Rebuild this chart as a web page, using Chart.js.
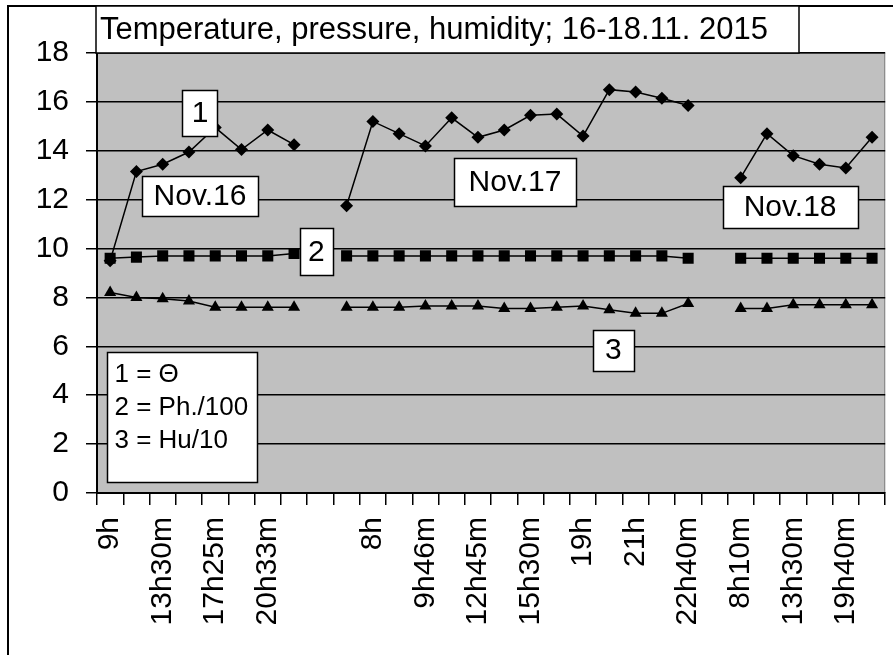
<!DOCTYPE html>
<html>
<head>
<meta charset="utf-8">
<script src="https://cdn.jsdelivr.net/npm/chart.js@4.4.0/dist/chart.umd.min.js"></script>
<style>
  html, body { margin: 0; padding: 0; background: #fff; }
</style>
</head>
<body>
<canvas id="weather-chart" width="893" height="655"></canvas>
<script>
const chartTitle = "Temperature, pressure, humidity; 16-18.11. 2015"

// one category per reading, every other label is hidden like in the original
const timeLabels = [
  "9h", "", "13h30m", "", "17h25m", "", "20h33m", "", "", "",
  "8h", "", "9h46m", "", "12h45m", "", "15h30m", "", "19h", "",
  "21h", "", "22h40m", "", "8h10m", "", "13h30m", "", "19h40m", ""
]

// 1 = temperature
const temperature = [
  9.5, 13.15, 13.45, 13.95, 14.95, 14.05, 14.85, 14.25, null,
  11.75, 15.2, 14.7, 14.2, 15.35, 14.55, 14.85, 15.45, 15.5, 14.6, 16.5, 16.4, 16.15, 15.85, null,
  12.9, 14.7, 13.8, 13.45, 13.3, 14.55
]

// 2 = pressure / 100
const pressure = [
  9.6, 9.65, 9.7, 9.7, 9.7, 9.7, 9.7, 9.8, null,
  9.7, 9.7, 9.7, 9.7, 9.7, 9.7, 9.7, 9.7, 9.7, 9.7, 9.7, 9.7, 9.7, 9.6, null,
  9.6, 9.6, 9.6, 9.6, 9.6, 9.6
]

// 3 = humidity / 10
const humidity = [
  8.2, 8.0, 7.95, 7.85, 7.6, 7.6, 7.6, 7.6, null,
  7.6, 7.6, 7.6, 7.65, 7.65, 7.65, 7.55, 7.55, 7.6, 7.65, 7.5, 7.35, 7.35, 7.75, null,
  7.55, 7.55, 7.7, 7.7, 7.7, 7.7
]

const legendLines = ["1 = \u0398", "2 = Ph./100", "3 = Hu/10"]

const FONT = "'Liberation Sans', Arial, sans-serif"

// text boxes placed in data coordinates (category index, value)
const notes = [
  { text: "1", x: 3.42, y: 15.54, w: 35, h: 46 },
  { text: "Nov.16", x: 3.42, y: 12.15, w: 116, h: 40 },
  { text: "2", x: 7.85, y: 9.86, w: 33, h: 47 },
  { text: "Nov.17", x: 15.41, y: 12.72, w: 122, h: 48 },
  { text: "3", x: 19.15, y: 5.85, w: 41, h: 41 },
  { text: "Nov.18", x: 25.88, y: 11.7, w: 135, h: 42 }
]

const decorations = {
  id: "decorations",
  beforeDraw(chart) {
    const { ctx, chartArea: a } = chart
    ctx.save()
    ctx.fillStyle = "#fff"
    ctx.fillRect(0, 0, chart.width, chart.height)
    ctx.fillStyle = "#c0c0c0"
    ctx.fillRect(a.left, a.top, a.right - a.left, a.bottom - a.top)
    ctx.strokeStyle = "#808080"
    ctx.lineWidth = 1
    ctx.strokeRect(a.left + 0.5, a.top + 0.5, a.right - a.left - 1, a.bottom - a.top - 1)
    // outer frame
    ctx.strokeStyle = "#000"
    ctx.lineWidth = 2
    ctx.beginPath()
    ctx.moveTo(8, chart.height)
    ctx.lineTo(8, 6)
    ctx.lineTo(chart.width, 6)
    ctx.stroke()
    ctx.restore()
  },
  afterDatasetsDraw(chart) {
    const { ctx, chartArea: a } = chart
    const xs = chart.scales.x
    const ys = chart.scales.y
    ctx.save()
    ctx.lineWidth = 1.5
    ctx.strokeStyle = "#000"

    // title box
    const tl = a.left - 1, tr = a.left + 702, tt = 6, tb = a.top
    ctx.fillStyle = "#fff"
    ctx.fillRect(tl, tt, tr - tl, tb - tt)
    ctx.strokeRect(tl, tt, tr - tl, tb - tt)
    ctx.fillStyle = "#000"
    ctx.font = "31px " + FONT
    ctx.textBaseline = "middle"
    ctx.textAlign = "left"
    ctx.fillText(chartTitle, tl + 4, (tt + tb) / 2 + 1)

    // labelled boxes
    ctx.font = "30px " + FONT
    ctx.textAlign = "center"
    notes.forEach((n) => {
      const cx = xs.getPixelForValue(n.x)
      const cy = ys.getPixelForValue(n.y)
      const l = Math.round(cx - n.w / 2) + 0.5
      const t = Math.round(cy - n.h / 2) + 0.5
      ctx.fillStyle = "#fff"
      ctx.fillRect(l, t, n.w, n.h)
      ctx.strokeRect(l, t, n.w, n.h)
      ctx.fillStyle = "#000"
      ctx.fillText(n.text, cx, cy + 1)
    })

    // key box
    const kl = Math.round(xs.getPixelForValue(-0.12)) + 0.5
    const kt = Math.round(ys.getPixelForValue(5.77)) + 0.5
    ctx.fillStyle = "#fff"
    ctx.fillRect(kl, kt, 150, 130)
    ctx.strokeRect(kl, kt, 150, 130)
    ctx.fillStyle = "#000"
    ctx.font = "26px " + FONT
    ctx.textAlign = "left"
    legendLines.forEach((line, i) => {
      ctx.fillText(line, kl + 7, kt + 22 + i * 33)
    })
    ctx.restore()
  }
}

const series = (data, pointStyle, radius) => ({
  data,
  borderColor: "#000",
  borderWidth: 1.5,
  backgroundColor: "#000",
  pointStyle,
  pointRadius: radius,
  pointBackgroundColor: "#000",
  pointBorderColor: "#000",
  pointBorderWidth: 0,
  tension: 0,
  spanGaps: false
})

new Chart(document.getElementById("weather-chart"), {
  type: "line",
  data: {
    labels: timeLabels,
    datasets: [
      series(temperature, "rectRot", 6.5),
      series(pressure, "rect", 7.8),
      series(humidity, "triangle", 7)
    ]
  },
  options: {
    responsive: false,
    animation: false,
    devicePixelRatio: 1,
    layout: { padding: { left: 8, top: 53, right: 6, bottom: 0 } },
    plugins: {
      legend: { display: false },
      tooltip: { enabled: false },
      title: { display: false }
    },
    scales: {
      x: {
        type: "category",
        offset: true,
        grid: {
          offset: true,
          drawOnChartArea: false,
          drawTicks: true,
          tickLength: 12,
          color: "#000",
          lineWidth: 1.5
        },
        border: { color: "#000", width: 2 },
        ticks: {
          autoSkip: false,
          maxRotation: 90,
          minRotation: 90,
          padding: 12,
          color: "#000",
          font: { family: FONT, size: 30 }
        },
        afterFit(scale) {
          scale.height = 162
          scale.paddingLeft = 0
          scale.paddingRight = 0
        }
      },
      y: {
        min: 0,
        max: 18,
        grid: {
          color: "#000",
          lineWidth: 1.5,
          tickLength: 11,
          drawTicks: true
        },
        border: { color: "#000", width: 2 },
        ticks: {
          stepSize: 2,
          padding: 17,
          color: "#000",
          font: { family: FONT, size: 30 }
        },
        afterFit(scale) {
          scale.width = 89
          scale.paddingTop = 0
          scale.paddingBottom = 0
        }
      }
    }
  },
  plugins: [decorations]
})
</script>
</body>
</html>
